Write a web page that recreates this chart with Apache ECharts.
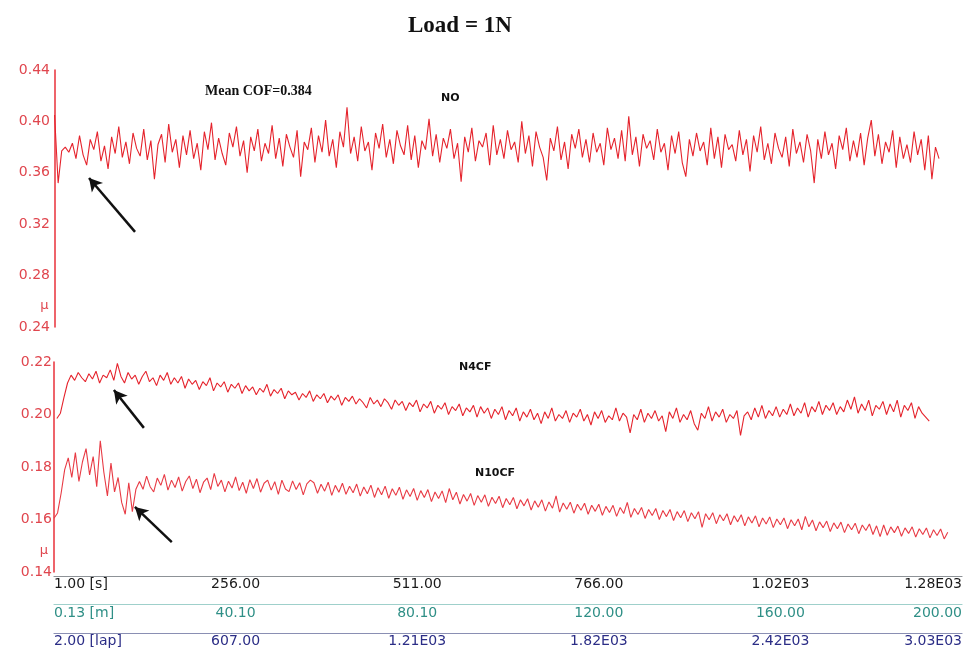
<!DOCTYPE html>
<html>
<head>
<meta charset="utf-8">
<title>Load = 1N</title>
<script src="https://cdn.jsdelivr.net/npm/echarts@6/dist/echarts.min.js"></script>
<style>
  html, body { margin: 0; padding: 0; background: #ffffff; }
  #chart { width: 965px; height: 648px; }
</style>
</head>
<body>
<div id="chart"></div>
<script>
// Friction coefficient traces at 1 N load; x = elapsed sliding time in seconds
const sampleStep = 5;

// NO coating (upper panel)
const noStart = 0;
const noMu = [
  0.405, 0.352, 0.377, 0.380, 0.376, 0.383, 0.371, 0.389, 0.374, 0.366, 0.386, 0.378,
  0.392, 0.369, 0.381, 0.363, 0.388, 0.375, 0.396, 0.372, 0.384, 0.367, 0.391, 0.379,
  0.373, 0.394, 0.370, 0.385, 0.355, 0.382, 0.390, 0.368, 0.398, 0.376, 0.386, 0.364,
  0.389, 0.374, 0.393, 0.371, 0.383, 0.362, 0.392, 0.378, 0.399, 0.370, 0.387, 0.375,
  0.366, 0.391, 0.380, 0.396, 0.373, 0.385, 0.360, 0.388, 0.377, 0.394, 0.369, 0.383,
  0.375, 0.397, 0.371, 0.387, 0.365, 0.390, 0.380, 0.372, 0.393, 0.357, 0.384, 0.378,
  0.395, 0.368, 0.389, 0.376, 0.401, 0.373, 0.386, 0.364, 0.392, 0.380, 0.411, 0.375,
  0.388, 0.369, 0.396, 0.377, 0.384, 0.362, 0.391, 0.379, 0.398, 0.372, 0.386, 0.367,
  0.393, 0.381, 0.374, 0.397, 0.370, 0.389, 0.364, 0.385, 0.378, 0.402, 0.373, 0.390,
  0.368, 0.387, 0.379, 0.394, 0.371, 0.383, 0.353, 0.388, 0.376, 0.395, 0.369, 0.385,
  0.380, 0.391, 0.366, 0.397, 0.374, 0.386, 0.371, 0.393, 0.378, 0.384, 0.368, 0.400,
  0.375, 0.389, 0.365, 0.392, 0.380, 0.372, 0.354, 0.387, 0.377, 0.396, 0.370, 0.384,
  0.363, 0.390, 0.379, 0.394, 0.372, 0.386, 0.368, 0.391, 0.376, 0.383, 0.366, 0.395,
  0.378, 0.387, 0.371, 0.393, 0.369, 0.404, 0.374, 0.388, 0.365, 0.390, 0.379, 0.385,
  0.370, 0.394, 0.376, 0.383, 0.362, 0.389, 0.375, 0.392, 0.368, 0.357, 0.386, 0.373,
  0.391, 0.377, 0.384, 0.366, 0.395, 0.371, 0.388, 0.364, 0.390, 0.378, 0.382, 0.369,
  0.393, 0.374, 0.386, 0.361, 0.389, 0.376, 0.396, 0.370, 0.383, 0.367, 0.391, 0.379,
  0.372, 0.388, 0.365, 0.394, 0.375, 0.384, 0.368, 0.390, 0.377, 0.352, 0.386, 0.371,
  0.392, 0.374, 0.383, 0.363, 0.389, 0.378, 0.395, 0.369, 0.385, 0.372, 0.391, 0.366,
  0.387, 0.401, 0.373, 0.390, 0.367, 0.384, 0.376, 0.393, 0.364, 0.388, 0.371, 0.382,
  0.368, 0.392, 0.374, 0.386, 0.362, 0.389, 0.355, 0.380, 0.371
];

// N4CF coating (lower panel)
const n4cfStart = 4;
const n4cfMu = [
  0.1985, 0.2005, 0.2065, 0.2120, 0.2150, 0.2130, 0.2160, 0.2140, 0.2125, 0.2155, 0.2135, 0.2165,
  0.2120, 0.2150, 0.2140, 0.2170, 0.2130, 0.2195, 0.2145, 0.2120, 0.2160, 0.2135, 0.2150, 0.2115,
  0.2145, 0.2165, 0.2125, 0.2140, 0.2110, 0.2150, 0.2130, 0.2160, 0.2115, 0.2140, 0.2120, 0.2145,
  0.2100, 0.2135, 0.2115, 0.2130, 0.2095, 0.2125, 0.2110, 0.2140, 0.2090, 0.2120, 0.2105, 0.2125,
  0.2085, 0.2115, 0.2100, 0.2120, 0.2080, 0.2110, 0.2090, 0.2105, 0.2075, 0.2100, 0.2085, 0.2115,
  0.2070, 0.2095, 0.2080, 0.2100, 0.2060, 0.2090, 0.2075, 0.2085, 0.2055, 0.2080, 0.2065, 0.2090,
  0.2050, 0.2075, 0.2060, 0.2080, 0.2045, 0.2070, 0.2055, 0.2075, 0.2035, 0.2065, 0.2050, 0.2070,
  0.2040, 0.2060, 0.2045, 0.2025, 0.2065, 0.2040, 0.2055, 0.2030, 0.2060, 0.2045, 0.2020, 0.2055,
  0.2035, 0.2050, 0.2015, 0.2045, 0.2030, 0.2055, 0.2010, 0.2040, 0.2025, 0.2050, 0.2005, 0.2035,
  0.2020, 0.2045, 0.2000, 0.2030, 0.2015, 0.2040, 0.1995, 0.2025, 0.2010, 0.2035, 0.1990, 0.2030,
  0.2005, 0.2025, 0.1985, 0.2020, 0.2000, 0.2030, 0.1980, 0.2015, 0.1995, 0.2025, 0.1975, 0.2010,
  0.1990, 0.2020, 0.1980, 0.2005, 0.1965, 0.2010, 0.1985, 0.2025, 0.1975, 0.2000, 0.1985, 0.2015,
  0.1970, 0.2005, 0.1990, 0.2020, 0.1975, 0.2000, 0.1960, 0.2010, 0.1985, 0.2015, 0.1970, 0.1995,
  0.1980, 0.2025, 0.1975, 0.2005, 0.1990, 0.1930, 0.2000, 0.1980, 0.2020, 0.1970, 0.2005, 0.1985,
  0.2015, 0.1975, 0.1995, 0.1935, 0.2010, 0.1985, 0.2025, 0.1970, 0.2000, 0.1980, 0.2015, 0.1965,
  0.1940, 0.2005, 0.1985, 0.2030, 0.1975, 0.2010, 0.1990, 0.2020, 0.1970, 0.2000, 0.1985, 0.2015,
  0.1920, 0.1995, 0.2010, 0.1980, 0.2025, 0.1990, 0.2035, 0.1985, 0.2015, 0.1995, 0.2030, 0.1990,
  0.2020, 0.2000, 0.2040, 0.1995, 0.2025, 0.2005, 0.2045, 0.1990, 0.2030, 0.2010, 0.2050, 0.2000,
  0.2035, 0.2015, 0.2045, 0.2000, 0.2030, 0.2010, 0.2055, 0.2020, 0.2067, 0.2005, 0.2040, 0.2015,
  0.2055, 0.1995, 0.2035, 0.2020, 0.2050, 0.2000, 0.2040, 0.2010, 0.2055, 0.1990, 0.2035, 0.2015,
  0.2045, 0.1985, 0.2030, 0.2005, 0.1990, 0.1975
];

// N10CF coating (lower panel)
const n10cfStart = 0;
const n10cfMu = [
  0.1605, 0.1625, 0.1700, 0.1790, 0.1835, 0.1760, 0.1855, 0.1745, 0.1820, 0.1870, 0.1770, 0.1840,
  0.1725, 0.1900, 0.1780, 0.1690, 0.1815, 0.1705, 0.1760, 0.1665, 0.1620, 0.1740, 0.1630, 0.1715,
  0.1745, 0.1715, 0.1765, 0.1725, 0.1705, 0.1758, 0.1730, 0.1772, 0.1712, 0.1750, 0.1722, 0.1762,
  0.1708, 0.1745, 0.1766, 0.1718, 0.1754, 0.1702, 0.1742, 0.1758, 0.1714, 0.1776, 0.1726, 0.1750,
  0.1705, 0.1746, 0.1720, 0.1762, 0.1710, 0.1742, 0.1700, 0.1752, 0.1718, 0.1756, 0.1704, 0.1738,
  0.1750, 0.1712, 0.1744, 0.1696, 0.1750, 0.1716, 0.1706, 0.1747, 0.1714, 0.1740, 0.1694, 0.1736,
  0.1750, 0.1740, 0.1700, 0.1734, 0.1708, 0.1742, 0.1692, 0.1730, 0.1704, 0.1738, 0.1696, 0.1727,
  0.1702, 0.1735, 0.1689, 0.1724, 0.1698, 0.1731, 0.1684, 0.1721, 0.1694, 0.1727, 0.1681, 0.1717,
  0.1692, 0.1723, 0.1677, 0.1713, 0.1688, 0.1718, 0.1673, 0.1710, 0.1684, 0.1714, 0.1668, 0.1705,
  0.1680, 0.1709, 0.1664, 0.1718, 0.1675, 0.1704, 0.1659, 0.1695, 0.1670, 0.1699, 0.1654, 0.1691,
  0.1666, 0.1694, 0.1650, 0.1685, 0.1661, 0.1689, 0.1645, 0.1680, 0.1656, 0.1684, 0.1641, 0.1675,
  0.1652, 0.1679, 0.1636, 0.1671, 0.1647, 0.1675, 0.1632, 0.1667, 0.1643, 0.1690, 0.1628, 0.1663,
  0.1639, 0.1666, 0.1624, 0.1658, 0.1635, 0.1662, 0.1620, 0.1654, 0.1631, 0.1658, 0.1616, 0.1650,
  0.1627, 0.1654, 0.1612, 0.1646, 0.1623, 0.1665, 0.1608, 0.1642, 0.1619, 0.1646, 0.1604, 0.1638,
  0.1615, 0.1642, 0.1600, 0.1634, 0.1611, 0.1638, 0.1596, 0.1630, 0.1607, 0.1634, 0.1592, 0.1626,
  0.1603, 0.1630, 0.1570, 0.1622, 0.1599, 0.1626, 0.1584, 0.1618, 0.1595, 0.1622, 0.1580, 0.1614,
  0.1591, 0.1618, 0.1576, 0.1610, 0.1587, 0.1614, 0.1572, 0.1606, 0.1583, 0.1610, 0.1569, 0.1602,
  0.1580, 0.1606, 0.1565, 0.1599, 0.1576, 0.1602, 0.1561, 0.1612, 0.1572, 0.1598, 0.1557, 0.1591,
  0.1569, 0.1594, 0.1554, 0.1587, 0.1565, 0.1590, 0.1550, 0.1583, 0.1561, 0.1586, 0.1546, 0.1579,
  0.1558, 0.1583, 0.1543, 0.1576, 0.1535, 0.1579, 0.1540, 0.1572, 0.1550, 0.1575, 0.1536, 0.1568,
  0.1547, 0.1572, 0.1533, 0.1565, 0.1543, 0.1568, 0.1530, 0.1561, 0.1539, 0.1564, 0.1526, 0.1551
];

// Bottom scale rows: time, sliding distance, laps
const timeLabels = ['1.00 [s]', '256.00', '511.00', '766.00', '1.02E03', '1.28E03'];
const distLabels = ['0.13 [m]', '40.10', '80.10', '120.00', '160.00', '200.00'];
const lapLabels  = ['2.00 [lap]', '607.00', '1.21E03', '1.82E03', '2.42E03', '3.03E03'];
const tickStep = 255;
const timeMax = 1275;

// Arrow annotations [tail, head] in data units
const arrowNO    = [[112.8, 0.314], [48.3, 0.356]];
const arrowN4CF  = [[126.2, 0.1949], [84.1, 0.2093]];
const arrowN10CF = [[165.4, 0.1514], [113.6, 0.1648]];

const toPairs = (start, vals) => vals.map((v, i) => [start + i * sampleStep, v]);

const RED = '#e5232c';
const LABEL_RED = '#e0464e';
const FONT = 'DejaVu Sans';

function arrowMark(a) {
  return {
    silent: true,
    symbol: ['none', 'arrow'],
    symbolSize: [11, 13],
    label: { show: false },
    itemStyle: { color: '#111' },
    lineStyle: { color: '#111', width: 2.5, type: 'solid' },
    emphasis: { disabled: true },
    data: [[{ coord: a[0] }, { coord: a[1] }]]
  };
}

function yAxisCfg(grid, min, max, interval) {
  return {
    type: 'value', gridIndex: grid, min: min, max: max, interval: interval,
    name: 'μ', nameLocation: 'start', nameGap: -28,
    nameTextStyle: { color: LABEL_RED, fontFamily: FONT, fontSize: 13, align: 'right', padding: [0, 6, 0, 0] },
    axisLine: { show: true, lineStyle: { color: '#e8303a', width: 1.5 } },
    axisTick: { show: false },
    splitLine: { show: false },
    axisLabel: { color: LABEL_RED, fontFamily: FONT, fontSize: 14, margin: 2,
                 formatter: v => v.toFixed(2) }
  };
}

function scaleAxis(labels, offset, lineColor, textColor, margin) {
  return {
    type: 'value', gridIndex: 1, position: 'bottom', offset: offset,
    min: 0, max: timeMax, interval: tickStep,
    axisLine: { show: true, onZero: false, lineStyle: { color: lineColor, width: 1.2 } },
    axisTick: { show: false },
    splitLine: { show: false },
    axisLabel: {
      color: textColor, fontFamily: FONT, fontSize: 14, margin: margin,
      alignMinLabel: 'left', alignMaxLabel: 'right',
      formatter: v => labels[Math.round(v / tickStep)]
    }
  };
}

const chart = echarts.init(document.getElementById('chart'), null, { renderer: 'canvas' });

chart.setOption({
  backgroundColor: '#ffffff',
  animation: false,
  title: {
    text: 'Load = 1N', left: 403, top: 10,
    textStyle: { fontFamily: 'Liberation Serif', fontWeight: 'bold', fontSize: 23, color: '#111' }
  },
  grid: [
    { left: 52, right: 1, top: 70, height: 257 },
    { left: 54, right: 1, top: 362, height: 210 }
  ],
  xAxis: [
    { type: 'value', gridIndex: 0, min: -3.6, max: timeMax, show: false },
    scaleAxis(timeLabels, 4, '#8d9297', '#1a1a1a', 1),
    scaleAxis(distLabels, 32, '#9fd0cb', '#2f8f86', 2),
    scaleAxis(lapLabels, 61, '#8a8fb3', '#2b2d86', 1)
  ],
  yAxis: [
    yAxisCfg(0, 0.24, 0.44, 0.04),
    yAxisCfg(1, 0.14, 0.22, 0.02)
  ],
  series: [
    {
      name: 'NO', type: 'line', xAxisIndex: 0, yAxisIndex: 0,
      data: toPairs(noStart, noMu), showSymbol: false, symbol: 'none',
      lineStyle: { color: RED, width: 1.1 }, silent: true,
      markLine: arrowMark(arrowNO)
    },
    {
      name: 'N4CF', type: 'line', xAxisIndex: 1, yAxisIndex: 1,
      data: toPairs(n4cfStart, n4cfMu), showSymbol: false, symbol: 'none',
      lineStyle: { color: RED, width: 1.1 }, silent: true,
      markLine: arrowMark(arrowN4CF)
    },
    {
      name: 'N10CF', type: 'line', xAxisIndex: 1, yAxisIndex: 1,
      data: toPairs(n10cfStart, n10cfMu), showSymbol: false, symbol: 'none',
      lineStyle: { color: '#e83a44', width: 1.1 }, silent: true,
      markLine: arrowMark(arrowN10CF)
    }
  ],
  graphic: [
    { type: 'text', left: 205, top: 84,
      style: { text: 'Mean COF=0.384', fill: '#111', font: 'bold 14px "Liberation Serif"' } },
    { type: 'text', left: 441, top: 93,
      style: { text: 'NO', fill: '#111', font: 'bold 11px "DejaVu Sans"' } },
    { type: 'text', left: 459, top: 362,
      style: { text: 'N4CF', fill: '#111', font: 'bold 11px "DejaVu Sans"' } },
    { type: 'text', left: 475, top: 468,
      style: { text: 'N10CF', fill: '#111', font: 'bold 11px "DejaVu Sans"' } }
  ]
});
</script>
</body>
</html>
